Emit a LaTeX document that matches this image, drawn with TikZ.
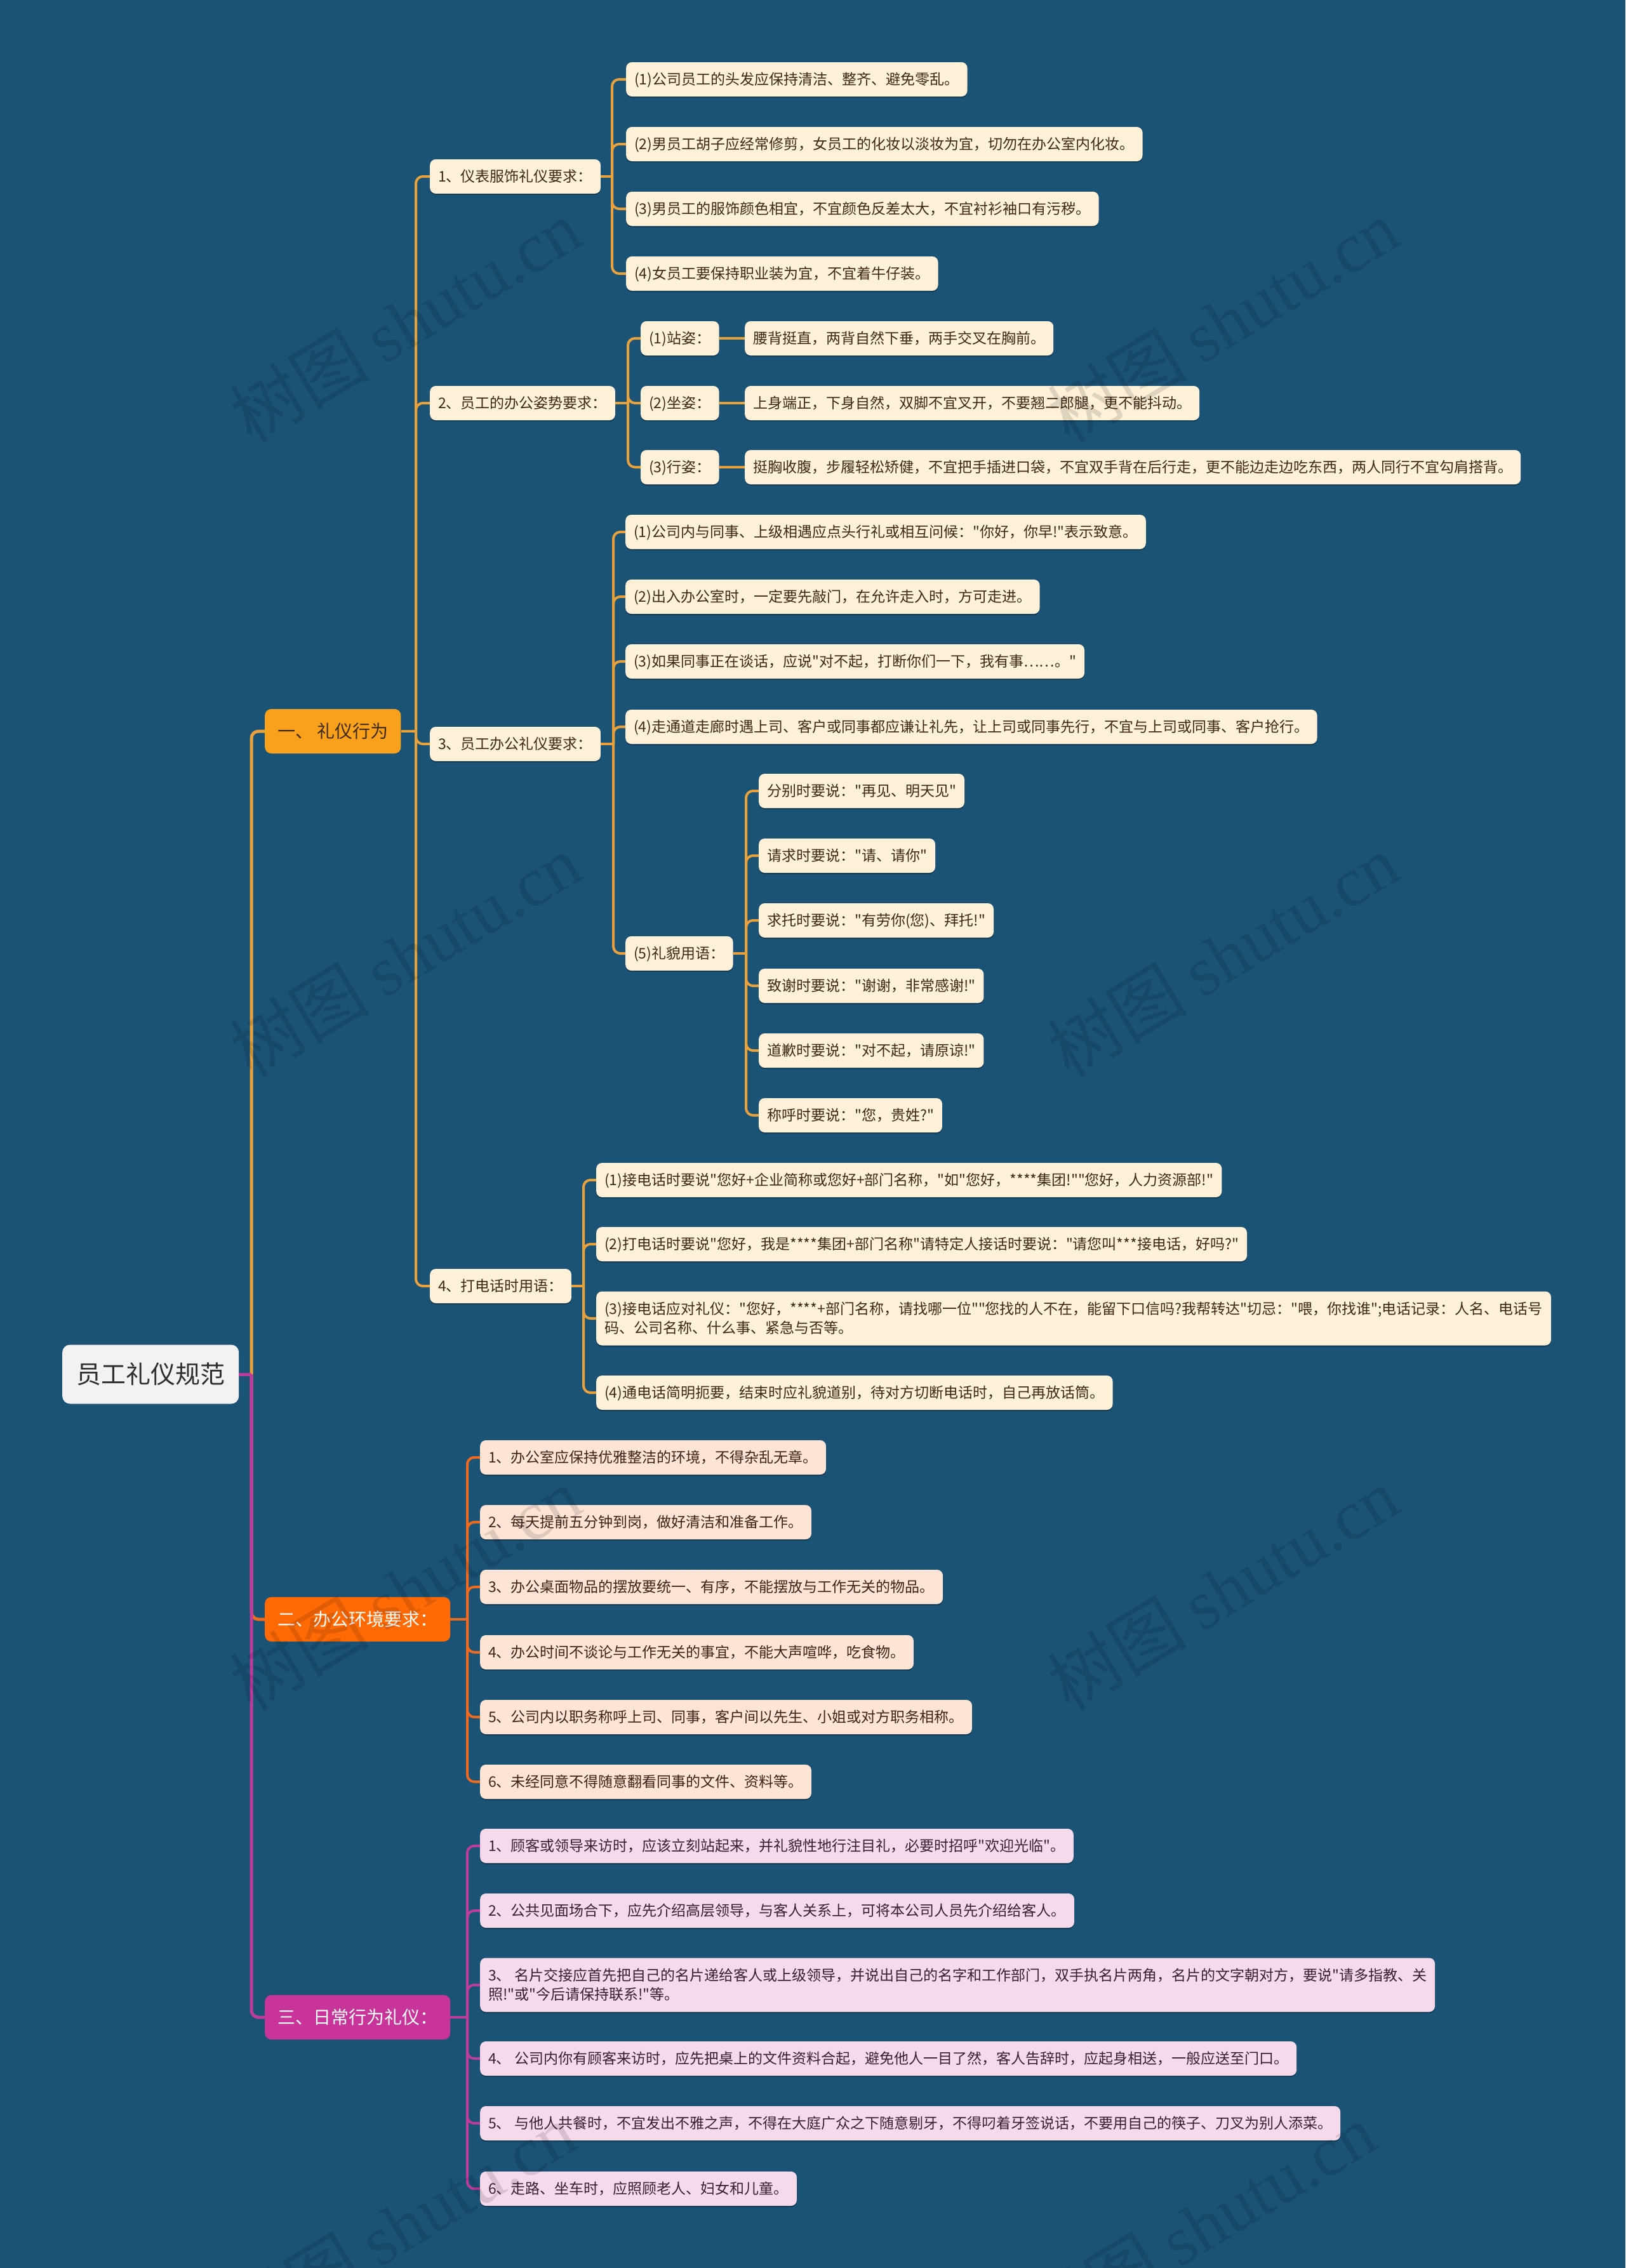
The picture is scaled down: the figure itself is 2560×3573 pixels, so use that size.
\documentclass[tikz,border=0pt]{standalone}
\usepackage{fontspec}
\setmainfont{Noto Sans CJK SC}
\newfontfamily\zh{Noto Sans CJK SC}
\newfontfamily\wmlatin{Liberation Serif}
\usetikzlibrary{shadows}
\definecolor{bgc}{HTML}{1A5376}
\definecolor{goldline}{HTML}{E9A23B}
\definecolor{orangebox}{HTML}{F9A11D}
\definecolor{creamfill}{HTML}{FEF1D8}
\definecolor{browntext}{HTML}{3D2A12}
\definecolor{redbox}{HTML}{FF6A06}
\definecolor{redline}{HTML}{EE6A1E}
\definecolor{peachfill}{HTML}{FEE4D5}
\definecolor{peachtext}{HTML}{3E2418}
\definecolor{magbox}{HTML}{C8349A}
\definecolor{magline}{HTML}{BF3C9F}
\definecolor{pinkfill}{HTML}{F6DAEC}
\definecolor{pinktext}{HTML}{3A1E32}
\definecolor{rootfill}{HTML}{F2F2F2}
\definecolor{roottext}{HTML}{2F2F2F}
\tikzset{
  rootbox/.style={fill=rootfill, text=roottext, rounded corners=12pt, inner xsep=22pt, inner ysep=0pt,
    minimum height=93pt, anchor=west, font=\zh\fontsize{39}{46}\selectfont, text height=34.3pt, text depth=4.7pt},
  mainbox/.style={rounded corners=10pt, inner xsep=20pt, inner ysep=0pt, minimum height=70pt, anchor=west,
    font=\zh\fontsize{28}{34}\selectfont, text height=24.6pt, text depth=3.4pt},
  cardbase/.style={rounded corners=9pt, inner xsep=13pt, inner ysep=0pt, minimum height=54pt, anchor=west,
    font=\zh\fontsize{23}{30}\selectfont,
    drop shadow={shadow xshift=0pt, shadow yshift=-2pt, opacity=0.3, fill=black}},
  oneline/.style={text height=20.2pt, text depth=2.8pt},
  twoline/.style={align=left, minimum height=85pt},
  cardA/.style={cardbase, fill=creamfill, text=browntext},
  cardB/.style={cardbase, fill=peachfill, text=peachtext},
  cardC/.style={cardbase, fill=pinkfill, text=pinktext},
  lkA/.style={draw=goldline, line width=4pt},
  lkB/.style={draw=redline, line width=4pt},
  lkC/.style={draw=magline, line width=4pt},
  rc/.style={rounded corners=11pt},
  wm/.style={rotate=31, font=\zh\fontsize{110}{110}\selectfont, text=black, text opacity=0.12}
}
\begin{document}
\begin{tikzpicture}[x=1pt,y=-1pt]
\fill[bgc] (0,0) rectangle (2560,3573);
\useasboundingbox (0,0) rectangle (2560,3573);

% spine coordinates
\coordinate (s0) at (396,0);
\coordinate (s1) at (655,0);
\coordinate (s11) at (964,0);
\coordinate (s12) at (989,0);
\coordinate (s13) at (966,0);
\coordinate (s135) at (1175,0);
\coordinate (s14) at (919,0);
\coordinate (s2) at (736,0);
\coordinate (s3) at (736,0);

% root and main branches
\node[rootbox] (root) at (98,2165) {员工礼仪规范};
\node[mainbox, fill=orangebox, text=browntext] (b1) at (417,1152) {一、 礼仪行为};
\node[mainbox, fill=redbox, text=white] (b2) at (417,2551) {二、办公环境要求：};
\node[mainbox, fill=magbox, text=white] (b3) at (417,3178) {三、日常行为礼仪：};

% level 2 of section 1
\node[cardA, oneline] (a1) at (677,278) {1、仪表服饰礼仪要求：};
\node[cardA, oneline] (a2) at (677,635) {2、员工的办公姿势要求：};
\node[cardA, oneline] (a3) at (677,1172) {3、员工办公礼仪要求：};
\node[cardA, oneline] (a4) at (677,2026) {4、打电话时用语：};

% 1.1
\node[cardA, oneline] (a11) at (986,125) {(1)公司员工的头发应保持清洁、整齐、避免零乱。};
\node[cardA, oneline] (a12) at (986,227) {(2)男员工胡子应经常修剪，女员工的化妆以淡妆为宜，切勿在办公室内化妆。};
\node[cardA, oneline] (a13) at (986,329) {(3)男员工的服饰颜色相宜，不宜颜色反差太大，不宜衬衫袖口有污秽。};
\node[cardA, oneline] (a14) at (986,431) {(4)女员工要保持职业装为宜，不宜着牛仔装。};

% 1.2
\node[cardA, oneline] (p1) at (1009,533) {(1)站姿：};
\node[cardA, oneline] (p2) at (1009,635) {(2)坐姿：};
\node[cardA, oneline] (p3) at (1009,736) {(3)行姿：};
\node[cardA, oneline] (q1) at (1173,533) {腰背挺直，两背自然下垂，两手交叉在胸前。};
\node[cardA, oneline] (q2) at (1173,635) {上身端正，下身自然，双脚不宜叉开，不要翘二郎腿，更不能抖动。};
\node[cardA, oneline] (q3) at (1173,736) {挺胸收腹，步履轻松矫健，不宜把手插进口袋，不宜双手背在后行走，更不能边走边吃东西，两人同行不宜勾肩搭背。};

% 1.3
\node[cardA, oneline] (c1) at (985,838) {(1)公司内与同事、上级相遇应点头行礼或相互问候："你好，你早!"表示致意。};
\node[cardA, oneline] (c2) at (985,940) {(2)出入办公室时，一定要先敲门，在允许走入时，方可走进。};
\node[cardA, oneline] (c3) at (985,1042) {(3)如果同事正在谈话，应说"对不起，打断你们一下，我有事……。"};
\node[cardA, oneline] (c4) at (985,1145) {(4)走通道走廊时遇上司、客户或同事都应谦让礼先，让上司或同事先行，不宜与上司或同事、客户抢行。};
\node[cardA, oneline] (c5) at (985,1502) {(5)礼貌用语：};
\node[cardA, oneline] (d1) at (1195,1246) {分别时要说："再见、明天见"};
\node[cardA, oneline] (d2) at (1195,1348) {请求时要说："请、请你"};
\node[cardA, oneline] (d3) at (1195,1450) {求托时要说："有劳你(您)、拜托!"};
\node[cardA, oneline] (d4) at (1195,1553) {致谢时要说："谢谢，非常感谢!"};
\node[cardA, oneline] (d5) at (1195,1655) {道歉时要说："对不起，请原谅!"};
\node[cardA, oneline] (d6) at (1195,1757) {称呼时要说："您，贵姓?"};

% 1.4
\node[cardA, oneline] (e1) at (939,1859) {(1)接电话时要说"您好+企业简称或您好+部门名称，"如"您好，****集团!""您好，人力资源部!"};
\node[cardA, oneline] (e2) at (939,1960) {(2)打电话时要说"您好，我是****集团+部门名称"请特定人接话时要说："请您叫***接电话，好吗?"};
\node[cardA, twoline] (e3) at (939,2077) {(3)接电话应对礼仪："您好，****+部门名称，请找哪一位""您找的人不在，能留下口信吗?我帮转达"切忌："喂，你找谁";电话记录：人名、电话号\\码、公司名称、什么事、紧急与否等。};
\node[cardA, oneline] (e4) at (939,2194) {(4)通电话简明扼要，结束时应礼貌道别，待对方切断电话时，自己再放话筒。};

% section 2
\node[cardB, oneline] (f1) at (756,2296) {1、办公室应保持优雅整洁的环境，不得杂乱无章。};
\node[cardB, oneline] (f2) at (756,2398) {2、每天提前五分钟到岗，做好清洁和准备工作。};
\node[cardB, oneline] (f3) at (756,2500) {3、办公桌面物品的摆放要统一、有序，不能摆放与工作无关的物品。};
\node[cardB, oneline] (f4) at (756,2603) {4、办公时间不谈论与工作无关的事宜，不能大声喧哗，吃食物。};
\node[cardB, oneline] (f5) at (756,2705) {5、公司内以职务称呼上司、同事，客户间以先生、小姐或对方职务相称。};
\node[cardB, oneline] (f6) at (756,2807) {6、未经同意不得随意翻看同事的文件、资料等。};

% section 3
\node[cardC, oneline] (g1) at (756,2908) {1、顾客或领导来访时，应该立刻站起来，并礼貌性地行注目礼，必要时招呼"欢迎光临"。};
\node[cardC, oneline] (g2) at (756,3010) {2、公共见面场合下，应先介绍高层领导，与客人关系上，可将本公司人员先介绍给客人。};
\node[cardC, twoline] (g3) at (756,3127) {3、 名片交接应首先把自己的名片递给客人或上级领导，并说出自己的名字和工作部门，双手执名片两角，名片的文字朝对方，要说"请多指教、关\\照!"或"今后请保持联系!"等。};
\node[cardC, oneline] (g4) at (756,3243) {4、 公司内你有顾客来访时，应先把桌上的文件资料合起，避免他人一目了然，客人告辞时，应起身相送，一般应送至门口。};
\node[cardC, oneline] (g5) at (756,3345) {5、 与他人共餐时，不宜发出不雅之声，不得在大庭广众之下随意剔牙，不得叼着牙签说话，不要用自己的筷子、刀叉为别人添菜。};
\node[cardC, oneline] (g6) at (756,3448) {6、走路、坐车时，应照顾老人、妇女和儿童。};

% ---------- connectors ----------
% main
\draw[lkA, line width=5pt, rc] (root.east -| s0) |- (b1.west);
\draw[lkB, line width=5pt, rc] (root.east -| s0) |- (b2.west);
\draw[lkC, line width=5pt, rc] (root.east -| s0) |- (b3.west);
\draw[lkC, line width=5pt] (root.east) -- (root.east -| s0);

% section 1 level 2
\draw[lkA] (b1.east) -- (b1.east -| s1);
\foreach \n in {a1,a2,a3,a4} \draw[lkA, rc] (b1.east -| s1) |- (\n.west);

% 1.1
\draw[lkA] (a1.east) -- (a1.east -| s11);
\foreach \n in {a11,a12,a13,a14} \draw[lkA, rc] (a1.east -| s11) |- (\n.west);

% 1.2
\draw[lkA] (a2.east) -- (a2.east -| s12);
\foreach \n in {p1,p2,p3} \draw[lkA, rc] (a2.east -| s12) |- (\n.west);
\draw[lkA] (p1.east) -- (q1.west);
\draw[lkA] (p2.east) -- (q2.west);
\draw[lkA] (p3.east) -- (q3.west);

% 1.3
\draw[lkA] (a3.east) -- (a3.east -| s13);
\foreach \n in {c1,c2,c3,c4,c5} \draw[lkA, rc] (a3.east -| s13) |- (\n.west);
\draw[lkA] (c5.east) -- (c5.east -| s135);
\foreach \n in {d1,d2,d3,d4,d5,d6} \draw[lkA, rc] (c5.east -| s135) |- (\n.west);

% 1.4
\draw[lkA] (a4.east) -- (a4.east -| s14);
\foreach \n in {e1,e2,e3,e4} \draw[lkA, rc] (a4.east -| s14) |- (\n.west);

% section 2
\draw[lkB] (b2.east) -- (b2.east -| s2);
\foreach \n in {f1,f2,f3,f4,f5,f6} \draw[lkB, rc] (b2.east -| s2) |- (\n.west);

% section 3
\draw[lkC] (b3.east) -- (b3.east -| s3);
\foreach \n in {g1,g2,g3,g4,g5,g6} \draw[lkC, rc] (b3.east -| s3) |- (\n.west);

% watermarks
\foreach \x/\y [count=\i] in {638/506, 1926/506, 638/1505, 1926/1505, 638/2503, 1926/2503, 630/3505, 1890/3505}
  \node[wm] (wm\i) at (\x,\y) {树图 {\wmlatin shutu.cn}};
\end{tikzpicture}
\end{document}
